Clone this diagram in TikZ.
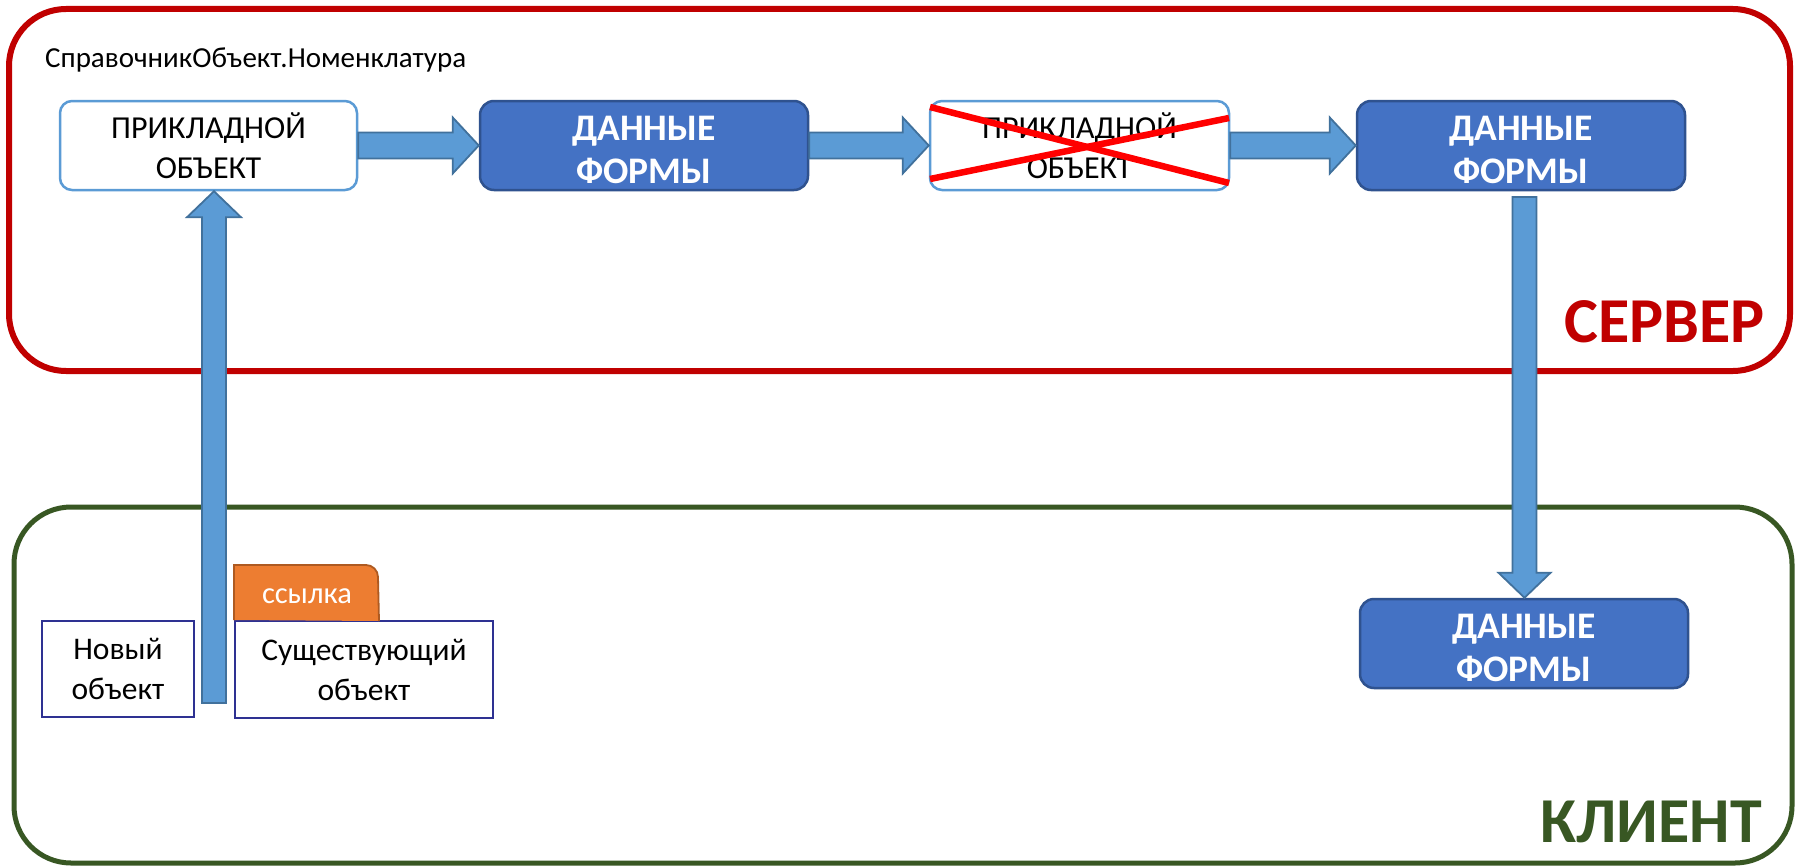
\documentclass[tikz,border=0pt]{standalone}
\usepackage{fontspec}
\setmainfont{Carlito}
\usetikzlibrary{calc}
\definecolor{srvred}{RGB}{192,0,0}
\definecolor{cligreen}{RGB}{56,87,35}
\definecolor{dfblue}{RGB}{68,114,196}
\definecolor{dfborder}{RGB}{47,82,143}
\definecolor{arrfill}{RGB}{91,155,213}
\definecolor{arrborder}{RGB}{65,113,156}
\definecolor{poborder}{RGB}{91,155,213}
\definecolor{objborder}{RGB}{46,49,146}
\definecolor{linkfill}{RGB}{237,125,49}
\definecolor{linkborder}{RGB}{174,90,33}
\newcommand\blockarrowh[2]{%
  \draw[blockarrow] let \p1=(#1.east), \p2=(#2.west) in
    (\x1,\y1+13pt) -- (\x2-26pt,\y1+13pt) -- (\x2-26pt,\y1+28pt) -- (\x2,\y1)
    -- (\x2-26pt,\y1-28pt) -- (\x2-26pt,\y1-13pt) -- (\x1,\y1-13pt) -- cycle;}
\begin{document}
\begin{tikzpicture}[x=1pt,y=-1pt,
  zone/.style={line width=6pt, rounded corners=57pt, inner sep=0pt},
  pobox/.style={draw=poborder, line width=2.5pt, fill=white, rounded corners=12pt,
    align=center, inner sep=0pt, font=\fontsize{32}{40}\selectfont},
  dfbox/.style={draw=dfborder, line width=2.5pt, fill=dfblue, rounded corners=14pt,
    align=center, inner sep=0pt, text=white, font=\fontsize{37.5}{43}\selectfont\bfseries},
  objbox/.style={draw=objborder, line width=2pt, fill=white, align=center,
    inner sep=0pt, font=\fontsize{31.5}{40}\selectfont},
  blockarrow/.style={fill=arrfill, draw=arrborder, line width=1.8pt, line join=miter},
  bigtitle/.style={font=\fontsize{64}{64}\selectfont\bfseries, inner sep=0pt, anchor=base east},
  cross/.style={draw=red, line width=6.5pt}
]
\useasboundingbox (0,0) rectangle (1799,867);
\fill[white] (0,0) rectangle (1799,867);

% zones
\node[zone, draw=srvred, minimum width=1781pt, minimum height=362pt] (server) at (899.5,190) {};
\node[zone, draw=cligreen, line width=5pt, minimum width=1778pt, minimum height=356pt] (client) at (903,685) {};
\node[bigtitle, text=srvred] (srvlabel) at (1765,342) {СЕРВЕР};
\node[bigtitle, text=cligreen] (clilabel) at (1762,842) {КЛИЕНТ};

\node[anchor=base west, inner sep=0pt, font=\fontsize{29}{30}\selectfont] (title) at (45,67) {СправочникОбъект.Номенклатура};

% server row
\node[pobox, minimum width=297pt, minimum height=89pt] (po1) at (208.5,145.5) {ПРИКЛАДНОЙ\\ОБЪЕКТ};
\node[dfbox, minimum width=328pt, minimum height=89pt] (df1) at (644,145.5) {\rule{0pt}{34pt}ДАННЫЕ\\ФОРМЫ};
\node[pobox, minimum width=299pt, minimum height=89pt] (po2) at (1079.5,145.5) {ПРИКЛАДНОЙ\\ОБЪЕКТ};
\node[dfbox, minimum width=328pt, minimum height=89pt] (df2) at (1521,145.5) {\rule{0pt}{34pt}ДАННЫЕ\\ФОРМЫ};

% red cross
\coordinate (x1a) at (930,107);
\coordinate (x1b) at (1229,183);
\coordinate (x2a) at (930,179);
\coordinate (x2b) at (1229,118);
\draw[cross] (x1a) -- (x1b);
\draw[cross] (x2a) -- (x2b);

% client
\node[dfbox, minimum width=328pt, minimum height=89pt] (df3) at (1524,643.5) {\rule{0pt}{34pt}ДАННЫЕ\\ФОРМЫ};
\node[objbox, minimum width=152pt, minimum height=96pt] (newobj) at (118,669) {Новый\\объект};
\node[objbox, minimum width=258pt, minimum height=97pt] (exobj) at (364,669.5) {Существующий\\объект};
\draw[fill=linkfill, draw=linkborder, line width=1.8pt]
  (exobj.north west) -- ++(0,-55) -- ++(132,0) arc[start angle=-90, end angle=0, radius=12] -- (379,621) ;
\node[text=white, font=\fontsize{30.5}{30}\selectfont, inner sep=0pt] (link) at (307,596) {ссылка};

% arrows
\blockarrowh{po1}{df1}
\blockarrowh{df1}{po2}
\blockarrowh{po2}{df2}

\coordinate (upstart) at (214,703);
\draw[blockarrow] let \p1=(upstart), \p2=(po1.south) in
  (\x1-12pt,\y1) -- (\x1-12pt,\y2-26pt) -- (\x1-27pt,\y2-26pt) -- (\x1,\y2)
  -- (\x1+27pt,\y2-26pt) -- (\x1+12pt,\y2-26pt) -- (\x1+12pt,\y1) -- cycle;

\coordinate (downstart) at (1524.5,197);
\draw[blockarrow] let \p1=(downstart), \p2=(df3.north) in
  (\x1-12pt,\y1) -- (\x1-12pt,\y2+25pt) -- (\x1-26pt,\y2+25pt) -- (\x1,\y2)
  -- (\x1+26pt,\y2+25pt) -- (\x1+12pt,\y2+25pt) -- (\x1+12pt,\y1) -- cycle;
\end{tikzpicture}
\end{document}
